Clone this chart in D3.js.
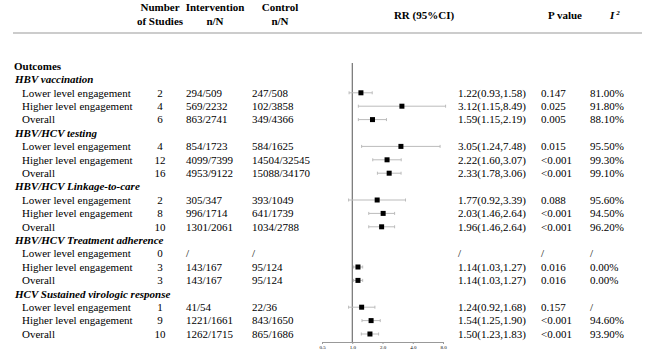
<!DOCTYPE html>
<html>
<head>
<meta charset="utf-8">
<script src="https://cdn.jsdelivr.net/npm/d3@7"></script>
<style>
  html, body { margin: 0; padding: 0; background: #fff; }
  svg { display: block; }
  text { font-family: "Liberation Serif", "Times New Roman", serif; fill: #000; }
</style>
</head>
<body>
<svg id="chart" width="650" height="356"></svg>
<script>
// ---------- DATA ----------
const outcomes = ["HBV vaccination", "HBV/HCV testing", "HBV/HCV Linkage-to-care",
                  "HBV/HCV Treatment adherence", "HCV Sustained virologic response"];
const levels = ["Lower level engagement", "Higher level engagement", "Overall"];
const nStudies = [2, 4, 6, 4, 12, 16, 2, 8, 10, 0, 3, 3, 1, 9, 10];
const interventionNN = ["294/509", "569/2232", "863/2741", "854/1723", "4099/7399", "4953/9122",
                        "305/347", "996/1714", "1301/2061", "/", "143/167", "143/167",
                        "41/54", "1221/1661", "1262/1715"];
const controlNN = ["247/508", "102/3858", "349/4366", "584/1625", "14504/32545", "15088/34170",
                   "393/1049", "641/1739", "1034/2788", "/", "95/124", "95/124",
                   "22/36", "843/1650", "865/1686"];
const rr     = [1.22, 3.12, 1.59, 3.05, 2.22, 2.33, 1.77, 2.03, 1.96, null, 1.14, 1.14, 1.24, 1.54, 1.50];
const ciLow  = [0.93, 1.15, 1.15, 1.24, 1.60, 1.78, 0.92, 1.46, 1.46, null, 1.03, 1.03, 0.92, 1.25, 1.23];
const ciHigh = [1.58, 8.49, 2.19, 7.48, 3.07, 3.06, 3.39, 2.64, 2.64, null, 1.27, 1.27, 1.68, 1.90, 1.83];
const pValues = ["0.147", "0.025", "0.005", "0.015", "<0.001", "<0.001", "0.088", "<0.001", "<0.001",
                 "/", "0.016", "0.016", "0.157", "<0.001", "<0.001"];
const i2Values = ["81.00%", "91.80%", "88.10%", "95.50%", "99.30%", "99.10%", "95.60%", "94.50%", "96.20%",
                  "/", "0.00%", "0.00%", "/", "94.60%", "93.90%"];
const axisTicks = [0.5, 1, 2, 4, 8];

// ---------- BUILD ROWS ----------
const rows = [{type: "title", label: "Outcomes"}];
outcomes.forEach((o, gi) => {
  rows.push({type: "group", label: o});
  levels.forEach((lv, li) => {
    const k = gi * 3 + li;
    rows.push({type: "item", label: lv, k});
  });
});

const svg = d3.select("#chart");
const y = d3.scalePoint().domain(d3.range(rows.length)).range([66, 334]);
const x = d3.scaleLog().domain([0.5, 8]).range([322, 443]);

const FS = 11;

// ---------- HEADER ----------
const hdr = svg.append("g").attr("font-weight", "bold").attr("font-size", FS);
const htext = (t, xx, yy, anchor = "middle") =>
  hdr.append("text").attr("x", xx).attr("y", yy).attr("dy", "0.35em").attr("text-anchor", anchor).text(t);
htext("Number", 160, 7);
htext("of Studies", 160, 21);
htext("Intervention", 215, 7);
htext("n/N", 215, 21);
htext("Control", 280, 7);
htext("n/N", 280, 21);
htext("RR (95%CI)", 424, 15);
htext("P value", 565, 15);
const i2h = hdr.append("text").attr("x", 610).attr("y", 15).attr("dy", "0.35em")
  .attr("font-style", "italic");
i2h.append("tspan").text("I");
i2h.append("tspan").attr("font-size", 7).attr("dy", "-0.5em").attr("dx", 2).text("2");

svg.append("line").attr("x1", 13).attr("x2", 642).attr("y1", 33).attr("y2", 33)
  .attr("stroke", "#999").attr("stroke-width", 1.2);

// ---------- ROW TEXT ----------
const g = svg.append("g").attr("font-size", FS);
rows.forEach((r, i) => {
  const yy = y(i);
  if (r.type === "title") {
    g.append("text").attr("x", 14).attr("y", yy).attr("dy", "0.35em")
      .attr("font-weight", "bold").text(r.label);
  } else if (r.type === "group") {
    g.append("text").attr("x", 15).attr("y", yy).attr("dy", "0.35em")
      .attr("font-weight", "bold").attr("font-style", "italic").text(r.label);
  } else {
    const k = r.k;
    g.append("text").attr("x", 22).attr("y", yy).attr("dy", "0.35em").text(r.label);
    g.append("text").attr("x", 160).attr("y", yy).attr("dy", "0.35em").attr("text-anchor", "middle").text(nStudies[k]);
    g.append("text").attr("x", 186).attr("y", yy).attr("dy", "0.35em").text(interventionNN[k]);
    g.append("text").attr("x", 252).attr("y", yy).attr("dy", "0.35em").text(controlNN[k]);
    const rrTxt = rr[k] == null ? "/" :
      `${rr[k].toFixed(2)}(${ciLow[k].toFixed(2)},${ciHigh[k].toFixed(2)})`;
    g.append("text").attr("x", 458).attr("y", yy).attr("dy", "0.35em").text(rrTxt);
    g.append("text").attr("x", 541).attr("y", yy).attr("dy", "0.35em").text(pValues[k]);
    g.append("text").attr("x", 590).attr("y", yy).attr("dy", "0.35em").text(i2Values[k]);
  }
});

// ---------- FOREST PLOT ----------
// reference line at RR = 1
svg.append("line").attr("x1", x(1)).attr("x2", x(1)).attr("y1", 63).attr("y2", 342)
  .attr("stroke", "#555").attr("stroke-width", 1);

const items = rows.map((r, i) => ({...r, i})).filter(r => r.type === "item" && rr[r.k] != null);
const pg = svg.append("g");
items.forEach(d => {
  const yy = y(d.i);
  const k = d.k;
  pg.append("line").attr("x1", x(ciLow[k])).attr("x2", x(ciHigh[k])).attr("y1", yy).attr("y2", yy)
    .attr("stroke", "#bbb").attr("stroke-width", 1);
  [ciLow[k], ciHigh[k]].forEach(v => {
    pg.append("line").attr("x1", x(v)).attr("x2", x(v)).attr("y1", yy - 1.5).attr("y2", yy + 1.5)
      .attr("stroke", "#bbb").attr("stroke-width", 1);
  });
  pg.append("rect").attr("x", x(rr[k]) - 2.5).attr("y", yy - 2.5).attr("width", 5).attr("height", 5)
    .attr("fill", "#000");
});

// axis
const axis = d3.axisBottom(x).tickValues(axisTicks).tickFormat(d3.format(".1f"))
  .tickSize(2).tickPadding(1);
const ag = svg.append("g").attr("transform", "translate(0,342)").call(axis);
ag.select(".domain").attr("stroke", "#999");
ag.selectAll(".tick line").attr("stroke", "#999");
ag.selectAll(".tick text").attr("font-size", 5).attr("fill", "#888")
  .attr("font-family", "Liberation Serif, serif");
</script>
</body>
</html>
